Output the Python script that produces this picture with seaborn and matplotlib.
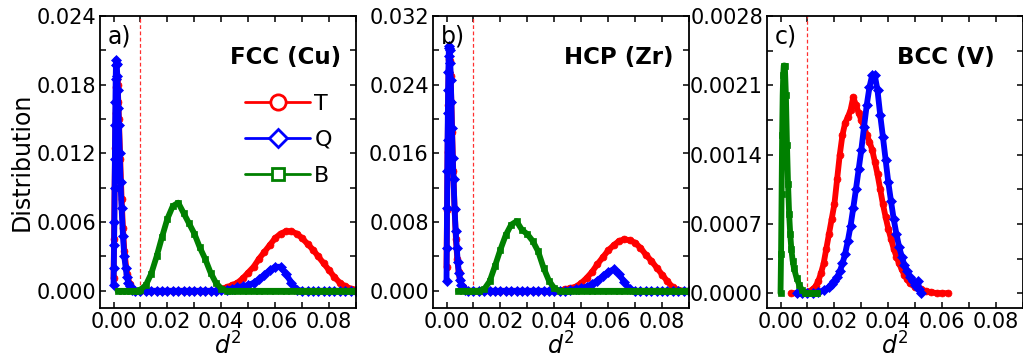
import numpy as np
import pandas as pd
import matplotlib
matplotlib.use("Agg")
import matplotlib.pyplot as plt
from matplotlib.ticker import MultipleLocator, FormatStrFormatter
from matplotlib.lines import Line2D
import seaborn as sns

# ---------------- data ----------------
THRESHOLD = 0.01

X_TAIL = [0.010, 0.012, 0.014, 0.016, 0.018, 0.020, 0.022, 0.024, 0.026, 0.028,
          0.030, 0.032, 0.034, 0.036, 0.038, 0.040, 0.042, 0.044, 0.046, 0.048,
          0.050, 0.052, 0.054, 0.056, 0.058, 0.060, 0.062, 0.064, 0.066, 0.068,
          0.070, 0.072, 0.074, 0.076, 0.078, 0.080, 0.082, 0.084, 0.086, 0.088,
          0.090]

# Panel a) FCC (Cu)
A_T_HEAD_X = [0.0, 0.0002, 0.0004, 0.0006, 0.0008, 0.0010, 0.0012, 0.0015, 0.0018,
              0.0020, 0.0025, 0.0030, 0.0035, 0.0040, 0.0050, 0.0060, 0.0070, 0.0080]
A_T_HEAD_Y = [0.0011, 0.0045, 0.0090, 0.0125, 0.0155, 0.0178, 0.0185, 0.0180, 0.0165,
              0.0150, 0.0115, 0.0080, 0.0055, 0.0035, 0.0015, 0.0006, 0.0002, 0.0]
A_T_TAIL = [0.0, 0.0, 0.0, 0.0, 0.0, 0.0, 0.0, 0.0, 0.0, 0.0,
            0.0, 0.0, 0.0, 0.0, 0.0, 0.0002, 0.0003, 0.0005, 0.0007, 0.0011,
            0.0016, 0.0021, 0.0028, 0.0034, 0.0040, 0.0046, 0.0050, 0.0052, 0.0052, 0.0050,
            0.0046, 0.0041, 0.0036, 0.0030, 0.0024, 0.0018, 0.0012, 0.0007, 0.0004, 0.0002,
            0.0001]

A_Q_HEAD_X = [0.0, 0.0001, 0.0002, 0.0003, 0.0004, 0.0005, 0.0006, 0.0007, 0.0008,
              0.0009, 0.0010, 0.0012, 0.0014, 0.0016, 0.0018, 0.0020, 0.0023, 0.0026,
              0.0030, 0.0035, 0.0040, 0.0045, 0.0050, 0.0055, 0.0060, 0.0070, 0.0080]
A_Q_HEAD_Y = [0.0005, 0.0020, 0.0040, 0.0060, 0.0090, 0.0115, 0.0145, 0.0165, 0.0185,
              0.0197, 0.0202, 0.0198, 0.0188, 0.0175, 0.0160, 0.0145, 0.0120, 0.0095,
              0.0072, 0.0048, 0.0030, 0.0020, 0.0012, 0.0007, 0.0004, 0.0001, 0.0]
A_Q_TAIL = [0.0, 0.0, 0.0, 0.0, 0.0, 0.0, 0.0, 0.0, 0.0, 0.0,
            0.0, 0.0, 0.0, 0.0, 0.0, 0.0001, 0.0001, 0.0002, 0.0003, 0.0004,
            0.0005, 0.0007, 0.0010, 0.0014, 0.0018, 0.0021, 0.0021, 0.0015, 0.0007, 0.0001,
            0.0, 0.0, 0.0, 0.0, 0.0, 0.0, 0.0, 0.0, 0.0, 0.0,
            0.0]

A_B_HEAD_X = [0.0015, 0.0030, 0.0045, 0.0060, 0.0075, 0.0090]
A_B_HEAD_Y = [0.0, 0.0, 0.0, 0.0, 0.0, 0.0]
A_B_TAIL = [0.0001, 0.0005, 0.0015, 0.0030, 0.0047, 0.0063, 0.0074, 0.0077, 0.0068, 0.0059,
            0.0050, 0.0038, 0.0028, 0.0016, 0.0007, 0.0002, 0.0, 0.0, 0.0, 0.0,
            0.0, 0.0, 0.0, 0.0, 0.0, 0.0, 0.0, 0.0, 0.0, 0.0,
            0.0, 0.0, 0.0, 0.0, 0.0, 0.0, 0.0, 0.0, 0.0, 0.0,
            0.0]

# Panel b) HCP (Zr)
B_T_HEAD_X = [0.0, 0.0002, 0.0004, 0.0006, 0.0008, 0.0010, 0.0012, 0.0015, 0.0018,
              0.0021, 0.0025, 0.0030, 0.0035, 0.0040, 0.0045, 0.0050, 0.0060, 0.0070, 0.0080]
B_T_HEAD_Y = [0.0028, 0.0094, 0.0162, 0.0216, 0.0255, 0.0270, 0.0268, 0.0250, 0.0220,
              0.0185, 0.0140, 0.0095, 0.0060, 0.0037, 0.0022, 0.0013, 0.0004, 0.0001, 0.0]
B_T_TAIL = [0.0, 0.0, 0.0, 0.0, 0.0, 0.0, 0.0, 0.0, 0.0, 0.0,
            0.0, 0.0, 0.0, 0.0, 0.0, 0.0, 0.0, 0.0002, 0.0003, 0.0005,
            0.0009, 0.0015, 0.0022, 0.0031, 0.0039, 0.0047, 0.0053, 0.0058, 0.0060, 0.0059,
            0.0056, 0.0050, 0.0042, 0.0035, 0.0027, 0.0019, 0.0011, 0.0004, 0.0001, 0.0,
            0.0]

B_Q_HEAD_X = [0.0, 0.0001, 0.0002, 0.0003, 0.0004, 0.0005, 0.0006, 0.0007, 0.0008,
              0.0009, 0.0010, 0.0012, 0.0014, 0.0016, 0.0018, 0.0020, 0.0023, 0.0026,
              0.0030, 0.0034, 0.0038, 0.0042, 0.0046, 0.0050, 0.0055, 0.0060, 0.0070, 0.0080]
B_Q_HEAD_Y = [0.0012, 0.0050, 0.0096, 0.0139, 0.0176, 0.0207, 0.0234, 0.0255, 0.0273,
              0.0283, 0.0285, 0.0280, 0.0265, 0.0245, 0.0220, 0.0190, 0.0155, 0.0130,
              0.0095, 0.0070, 0.0050, 0.0033, 0.0021, 0.0013, 0.0007, 0.0003, 0.0001, 0.0]
B_Q_TAIL = [0.0, 0.0, 0.0, 0.0, 0.0, 0.0, 0.0, 0.0, 0.0, 0.0,
            0.0, 0.0, 0.0, 0.0, 0.0, 0.0, 0.0, 0.0, 0.0001, 0.0002,
            0.0003, 0.0005, 0.0008, 0.0012, 0.0017, 0.0022, 0.0025, 0.0020, 0.0010, 0.0002,
            0.0, 0.0, 0.0, 0.0, 0.0, 0.0, 0.0, 0.0, 0.0, 0.0,
            0.0]

B_B_HEAD_X = [0.0043, 0.0060, 0.0080]
B_B_HEAD_Y = [0.0, 0.0, 0.0]
B_B_TAIL = [0.0, 0.0, 0.0002, 0.0011, 0.0029, 0.0048, 0.0065, 0.0077, 0.0081, 0.0071,
            0.0066, 0.0058, 0.0046, 0.0027, 0.0012, 0.0003, 0.0, 0.0, 0.0, 0.0,
            0.0, 0.0, 0.0, 0.0, 0.0, 0.0, 0.0, 0.0, 0.0, 0.0,
            0.0, 0.0, 0.0, 0.0, 0.0, 0.0, 0.0, 0.0, 0.0, 0.0,
            0.0]

# Panel c) BCC (V)
C_T_X = [0.004, 0.006, 0.008,
         0.010, 0.011, 0.012, 0.013, 0.014, 0.015, 0.016, 0.017, 0.018, 0.019,
         0.020, 0.021, 0.022, 0.023, 0.024, 0.025, 0.026, 0.027, 0.028, 0.029,
         0.030, 0.031, 0.032, 0.033, 0.034, 0.035, 0.036, 0.037, 0.038, 0.039,
         0.040, 0.041, 0.042, 0.043, 0.044, 0.045, 0.046, 0.047, 0.048,
         0.050, 0.052, 0.054, 0.056, 0.058, 0.060, 0.062]
C_T_Y = [0.0, 0.0, 0.0,
         0.00001, 0.00002, 0.00004, 0.00007, 0.00012, 0.0002, 0.0003, 0.00045, 0.0006, 0.00075,
         0.0009, 0.00115, 0.0014, 0.0016, 0.00172, 0.00178, 0.00185, 0.00198, 0.0019, 0.00182,
         0.00175, 0.00168, 0.0016, 0.00153, 0.00145, 0.00133, 0.0012, 0.00105, 0.0009, 0.00077,
         0.00065, 0.00055, 0.00045, 0.00037, 0.0003, 0.00024, 0.00018, 0.00014, 0.0001,
         0.00006, 0.00004, 0.00002, 0.00001, 0.0, 0.0, 0.0]

C_Q_X = [0.006, 0.008, 0.010, 0.012, 0.014, 0.016, 0.018,
         0.019, 0.020, 0.021, 0.022, 0.023, 0.024, 0.025, 0.026, 0.027, 0.028, 0.029,
         0.030, 0.031, 0.032, 0.033, 0.034, 0.035, 0.036, 0.037, 0.038, 0.039,
         0.040, 0.041, 0.042, 0.043, 0.044, 0.045, 0.046, 0.047, 0.048, 0.049, 0.050,
         0.0505, 0.051, 0.0515, 0.052]
C_Q_Y = [0.0, 0.0, 0.0, 0.0, 0.00001, 0.00003, 0.00006,
         0.00009, 0.00012, 0.00016, 0.00022, 0.0003, 0.0004, 0.00053, 0.00068, 0.00086, 0.00105, 0.00125,
         0.00145, 0.00168, 0.0019, 0.00208, 0.0022, 0.0022, 0.00205, 0.0018, 0.00158, 0.00135,
         0.00112, 0.00093, 0.00075, 0.0006, 0.00047, 0.00037, 0.00028, 0.00022, 0.00016, 0.00012, 0.00008,
         0.00006, 0.00012, 0.00004, 0.0]

C_B_X = [0.0000, 0.0002, 0.0004, 0.0006, 0.0008, 0.0010, 0.0012, 0.0016, 0.0020, 0.0024,
         0.0028, 0.0032, 0.0036, 0.0040, 0.0045, 0.0050, 0.0060, 0.0070, 0.0080, 0.0090,
         0.0100, 0.0110, 0.0120, 0.0130, 0.0136]
C_B_Y = [0.0, 0.0004, 0.0010, 0.0016, 0.0020, 0.0022, 0.0023, 0.0023, 0.0020, 0.0015,
         0.0011, 0.0008, 0.0006, 0.00045, 0.00033, 0.00025, 0.00015, 0.00008, 0.00003, 0.0,
         0.0, 0.0, 0.0, 0.0, 0.0]

SERIES = ["T", "Q", "B"]
COLORS = {"T": "#ff0000", "Q": "#0000ff", "B": "#008000"}
MARKERS = {"T": "o", "Q": "D", "B": "s"}

PANELS = [
    dict(tag="a)", title="FCC (Cu)", ymax=0.024, ymin=-0.0015, ystep=0.006, fmt="%.3f",
         data={"T": (A_T_HEAD_X + X_TAIL, A_T_HEAD_Y + A_T_TAIL),
               "Q": (A_Q_HEAD_X + X_TAIL, A_Q_HEAD_Y + A_Q_TAIL),
               "B": (A_B_HEAD_X + X_TAIL, A_B_HEAD_Y + A_B_TAIL)}),
    dict(tag="b)", title="HCP (Zr)", ymax=0.032, ymin=-0.002, ystep=0.008, fmt="%.3f",
         data={"T": (B_T_HEAD_X + X_TAIL, B_T_HEAD_Y + B_T_TAIL),
               "Q": (B_Q_HEAD_X + X_TAIL, B_Q_HEAD_Y + B_Q_TAIL),
               "B": (B_B_HEAD_X + X_TAIL, B_B_HEAD_Y + B_B_TAIL)}),
    dict(tag="c)", title="BCC (V)", ymax=0.0028, ymin=-0.00015, ystep=0.0007, fmt="%.4f",
         data={"T": (C_T_X, C_T_Y), "Q": (C_Q_X, C_Q_Y), "B": (C_B_X, C_B_Y)}),
]

# ---------------- figure ----------------
sns.set_theme(style="ticks")
plt.rcParams["font.family"] = ["DejaVu Sans"]
plt.rcParams["mathtext.fontset"] = "dejavusans"
plt.rcParams["text.color"] = "black"
plt.rcParams["axes.labelcolor"] = "black"
plt.rcParams["xtick.color"] = "black"
plt.rcParams["ytick.color"] = "black"

fig = plt.figure(figsize=(10.23, 3.60), dpi=100)
lefts = [0.0978, 0.4233, 0.7498]
bottom, width, height = 0.1444, 0.2502, 0.8111

FS = 15
for i, p in enumerate(PANELS):
    ax = fig.add_axes([lefts[i], bottom, width, height])
    for s in SERIES:
        xs, ys = p["data"][s]
        df = pd.DataFrame({"d2": xs, "dist": ys})
        sns.lineplot(data=df, x="d2", y="dist", ax=ax, color=COLORS[s],
                     marker=MARKERS[s], markersize=5, markeredgecolor=COLORS[s],
                     markeredgewidth=0.5, linewidth=4.2, sort=False,
                     estimator=None, legend=False)
    ax.set_xlim(-0.005, 0.09)
    ax.set_ylim(p["ymin"], p["ymax"])
    ax.vlines(THRESHOLD, 0, p["ymax"], colors="#ff3030", linestyles=(0, (3, 2)),
              linewidth=0.9, zorder=1)
    ax.xaxis.set_major_locator(MultipleLocator(0.02))
    ax.xaxis.set_minor_locator(MultipleLocator(0.01))
    ax.yaxis.set_major_locator(MultipleLocator(p["ystep"]))
    ax.yaxis.set_minor_locator(MultipleLocator(p["ystep"] / 2))
    ax.xaxis.set_major_formatter(FormatStrFormatter("%.2f"))
    ax.yaxis.set_major_formatter(FormatStrFormatter(p["fmt"]))
    ax.tick_params(which="both", direction="in", top=True, right=True,
                   length=4, width=1.1, colors="black", labelsize=FS)
    ax.tick_params(which="major", pad=3)
    for sp in ax.spines.values():
        sp.set_linewidth(1.3)
        sp.set_color("black")
    ax.set_xlabel("$d^2$", fontsize=17, labelpad=0.5)
    ax.set_ylabel("Distribution" if i == 0 else "", fontsize=17, labelpad=2)
    ax.text(0.03, 0.905, p["tag"], transform=ax.transAxes, fontsize=17,
            ha="left", va="baseline")
    ax.text(0.94 if i < 2 else 0.89, 0.835, p["title"], transform=ax.transAxes,
            fontsize=16.5, fontweight="bold", ha="right", va="baseline")
    if i == 0:
        handles = [Line2D([], [], color=COLORS[s], marker=MARKERS[s], markerfacecolor="white",
                          markeredgecolor=COLORS[s], markeredgewidth=2,
                          markersize={"T": 11, "Q": 9.5, "B": 8}[s], linewidth=2)
                   for s in SERIES]
        ax.legend(handles, SERIES, loc="upper right", bbox_to_anchor=(0.94, 0.765),
                  frameon=False, handlelength=2.9, handletextpad=0.2,
                  labelspacing=0.72, fontsize=16, borderaxespad=0)

fig.savefig("out.png", dpi=100, facecolor="white")
